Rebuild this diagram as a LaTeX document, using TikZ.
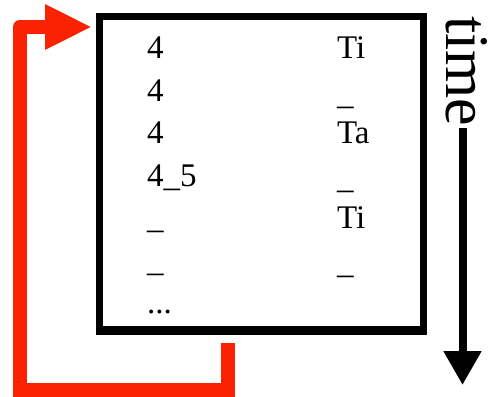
\documentclass[tikz,border=0pt]{standalone}
\usepackage{fontspec}
\setmainfont{Liberation Serif}
\usetikzlibrary{arrows.meta}
\definecolor{loopred}{RGB}{250,34,0}
\begin{document}
\begin{tikzpicture}[x=1pt,y=-1pt,
  cell/.style={anchor=base west,inner sep=0pt,outer sep=0pt,font=\fontsize{33}{33}\selectfont},
  loopline/.style={draw=loopred,line width=14pt},
  timeline/.style={draw=black,line width=8pt,-{Triangle[length=34pt,width=36pt]}}]
\useasboundingbox (0,0) rectangle (494,396);
% box
\node[draw=black,line width=7pt,minimum width=324pt,minimum height=313pt,inner sep=0pt,outer sep=0pt,anchor=north west] (box) at (99.5,16.5) {};
\fill[black] (96,326) rectangle (427,335);
% left column
\node[cell] (l1) at (147,58) {4};
\node[cell] (l2) at (147,101) {4};
\node[cell] (l3) at (147,143) {4};
\node[cell] (l4) at (147,186) {4\_5};
\node[cell] (l5) at (147,228) {\_};
\node[cell] (l6) at (147,271) {\_};
\node[cell] (l7) at (147,313) {...};
% right column
\node[cell] (r1) at (337,58) {Ti};
\node[cell] (r2) at (337,104) {\_};
\node[cell] (r3) at (337,143) {Ta};
\node[cell] (r4) at (337,188) {\_};
\node[cell] (r5) at (337,228) {Ti};
\node[cell] (r6) at (337,273) {\_};
% feedback loop
\coordinate (ls) at (227.5,343);
\coordinate (lb) at (227.5,389.5);
\coordinate (lc) at (20,389.5);
\coordinate (lu) at (20,60);
\coordinate (lt) at (20,27);
\coordinate (le) at (92,27);
\draw[loopline] (ls) -- (lb) -- (lc) -- (lu);
\draw[loopline,line join=round,-{Triangle[length=47pt,width=42pt]}] (lu) -- (lt) -- (le);
% time
\node[anchor=base west,inner sep=0pt,rotate=-90,text height=42pt,text depth=0pt,font=\fontsize{62}{62}\selectfont] (time) at (446,16) {time};
\coordinate (ts) at (462.5,128);
\coordinate (te) at (462.5,385);
\draw[timeline] (ts) -- (te);
\end{tikzpicture}
\end{document}
